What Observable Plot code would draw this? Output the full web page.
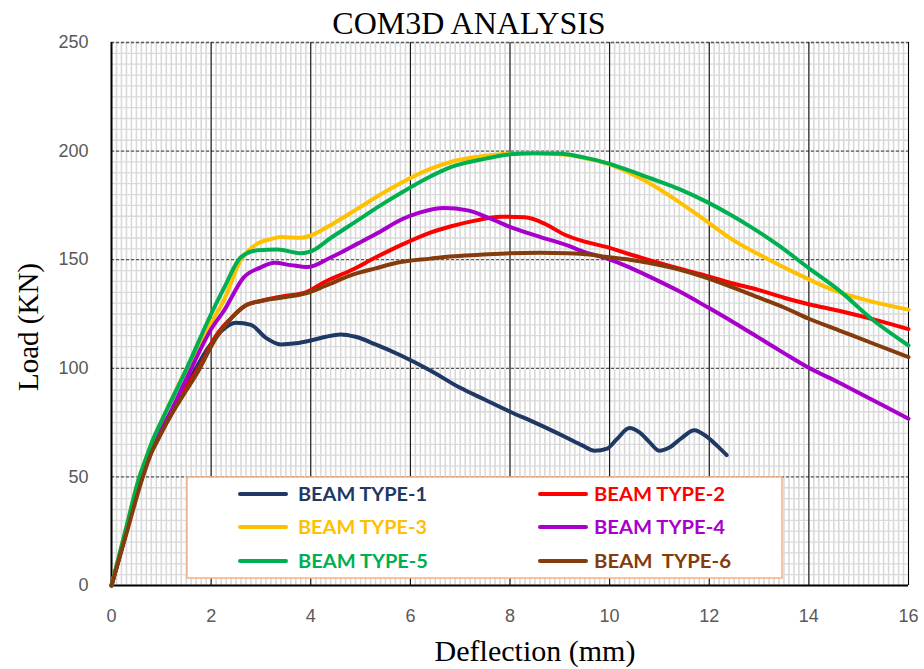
<!DOCTYPE html>
<html>
<head>
<meta charset="utf-8">
<script src="https://cdn.jsdelivr.net/npm/d3@7"></script>
<script src="https://cdn.jsdelivr.net/npm/@observablehq/plot@0.6"></script>
<style>
  html, body { margin: 0; padding: 0; background: #fff; }
  #chart svg { display: block; }
</style>
</head>
<body>
<div id="chart"></div>
<script>
// ---- Data ----
const seriesNames = ["BEAM TYPE-1", "BEAM TYPE-2", "BEAM TYPE-3", "BEAM TYPE-4", "BEAM TYPE-5", "BEAM  TYPE-6"];
const seriesColors = ["#203864", "#FF0000", "#FFC000", "#A800CC", "#00B050", "#843C0C"];

const x1 = [0,0.3,0.6,0.9,1.2,1.6,1.9,2.2,2.5,2.8,3.1,3.4,3.7,4.0,4.3,4.6,4.9,5.3,5.8,6.4,7.0,7.5,8.0,8.5,9.1,9.45,9.7,9.95,10.15,10.4,10.6,10.8,11.0,11.2,11.45,11.7,11.95,12.15,12.35];
const y1 = [0,25,50,67,80,96,108,117,121,120,114,111,111.5,112.8,114.5,115.6,114.5,111,106,99,91,85.5,80,75,68.5,64.5,62,63,67.5,72.5,70.5,66,62,63.5,68,71.5,68.5,64.5,60];

const x2 = [0,0.3,0.6,0.9,1.15,1.5,1.8,2.1,2.4,2.7,3.0,3.4,3.9,4.3,4.8,5.3,5.8,6.4,6.8,7.3,7.8,8.3,8.7,9.1,9.5,9.95,10.4,10.82,11.3,11.83,12.4,13.0,13.5,14.0,14.6,15.3,16];
const y2 = [0,25,50,67,77,91,102,115,123,129,131,133,135,140,145,151,156.6,162.5,165.3,168,169.8,169.5,166.5,161.5,158.3,155.8,152.5,149.7,146.5,143.3,139.5,136,132.5,129.5,126.5,122.5,118];

const x3 = [0,0.3,0.56,0.7,0.83,1.03,1.49,2.0,2.25,2.6,2.93,3.2,3.4,3.8,4.0,4.4,4.94,5.4,5.81,6.41,6.81,7.4,8.01,8.5,9.02,9.5,9.95,10.4,10.82,11.3,11.83,12.49,13.2,13.83,14.5,15.17,16];
const y3 = [0,27,50,59,67,77,99,121,131,150,157.4,159.5,160.4,160.1,161.2,166,173.5,180,185.3,191.9,195,197.5,198.8,199,198.5,196.8,194.2,190,185,178,169.6,158.9,150,142.8,135.9,131.3,127];

const x4 = [0,0.3,0.58,0.88,1.1,1.5,2.0,2.26,2.66,3.0,3.27,3.6,3.93,4.4,4.94,5.4,5.81,6.2,6.68,7.15,7.6,8.01,8.6,9.15,9.5,9.95,10.4,10.82,11.36,11.96,12.5,13.0,13.5,13.97,14.6,15.17,16];
const y4 = [0,25,50,67,76,95,118,126.6,142,146.5,148.6,147.5,146.6,151,157.4,163,168.4,171.8,173.8,172.7,169,165,160.5,156.6,153.5,150.5,146.5,142,135.9,128.2,121,114,107,100.6,93.5,86.7,76.8];

const x5 = [0,0.3,0.56,0.7,0.83,1.03,1.49,2.0,2.26,2.6,2.93,3.33,3.8,4.0,4.4,4.94,5.4,5.81,6.41,6.81,7.4,8.01,8.5,9.02,9.5,9.95,10.4,10.82,11.4,11.96,12.4,12.84,13.4,13.97,14.6,15.3,16];
const y5 = [0,27,50,59,67,77,99,125,137,151.2,154.3,154.7,153,153.8,160,168.1,175,180.7,188.4,192.6,196,198.5,199,198.8,197,194.5,191,187.5,182.5,176.5,171,165,156.5,146.6,136,122,110.5];

const x6 = [0,0.3,0.63,0.8,0.93,1.16,1.45,1.7,2.1,2.4,2.7,3.0,3.4,3.9,4.3,4.8,5.3,5.8,6.4,6.8,7.4,8.0,8.6,9.15,9.6,9.95,10.4,10.8,11.3,11.9,12.5,13.0,13.5,14.0,14.6,15.3,16];
const y6 = [0,24,50,61,67,77,88,97,114,123,129,131,132.5,134.5,138,142.8,146,148.9,150.5,151.5,152.3,153,153.2,153,152.4,151.2,150,148.5,146,142,137,132.5,128,122.8,117.5,111.3,105.2];

const xTicks = [0,2,4,6,8,10,12,14,16];
const yTicks = [0,50,100,150,200,250];

const title = "COM3D ANALYSIS";
const xLabel = "Deflection (mm)";
const yLabel = "Load (KN)";

// ---- Build table ----
const xs = [x1,x2,x3,x4,x5,x6];
const ys = [y1,y2,y3,y4,y5,y6];
const rows = [];
seriesNames.forEach((name, i) => {
  xs[i].forEach((xv, j) => rows.push({series: name, x: xv, y: ys[i][j]}));
});

const W = 924, H = 669;
const mL = 111, mR = 16, mT = 42, mB = 84;

const minorX = d3.range(0, 160.5, 1).map(d => d / 10);
const minorY = d3.range(0, 251, 5);
const majorXInner = xTicks.filter(d => d > 0);

const plot = Plot.plot({
  width: W, height: H,
  marginLeft: mL, marginRight: mR, marginTop: mT, marginBottom: mB,
  style: {background: "#fff", fontFamily: "'Liberation Sans', Arial, sans-serif"},
  x: {domain: [0, 16]},
  y: {domain: [0, 250]},
  color: {domain: seriesNames, range: seriesColors},
  marks: [
    Plot.ruleY(minorY, {stroke: "#d9d9d9", strokeWidth: 1.3}),
    Plot.ruleX(minorX, {stroke: "#d9d9d9", strokeWidth: 1.6}),
    Plot.ruleY(yTicks.filter(d => d > 0), {stroke: "#595959", strokeWidth: 1.3, strokeDasharray: "3,2"}),
    Plot.ruleX(majorXInner, {stroke: "#000", strokeWidth: 1}),
    Plot.ruleX([0], {stroke: "#000", strokeWidth: 2}),
    Plot.ruleY([0], {stroke: "#000", strokeWidth: 2}),
    Plot.axisX({ticks: xTicks, tickSize: 0, tickPadding: 24, fontSize: 18, color: "#595959", label: null}),
    Plot.axisY({ticks: yTicks, tickSize: 0, tickPadding: 23, fontSize: 18, color: "#595959", label: null}),
    Plot.line(rows, {x: "x", y: "y", z: "series", stroke: "series", strokeWidth: 4, curve: "monotone-x"})
  ]
});

document.getElementById("chart").appendChild(plot);

// ---- Titles and legend ----
const svg = d3.select(plot);
const serif = "'Liberation Serif', 'Times New Roman', serif";

svg.append("text")
  .attr("x", 469).attr("y", 34)
  .attr("text-anchor", "middle")
  .attr("font-family", serif).attr("font-size", 32).attr("fill", "#000")
  .text(title);

svg.append("text")
  .attr("x", 535).attr("y", 661)
  .attr("text-anchor", "middle")
  .attr("font-family", serif).attr("font-size", 30).attr("fill", "#000")
  .text(xLabel);

svg.append("text")
  .attr("transform", "translate(38,327) rotate(-90)")
  .attr("text-anchor", "middle")
  .attr("font-family", serif).attr("font-size", 29).attr("fill", "#000")
  .text(yLabel);

const lg = svg.append("g");
lg.append("rect")
  .attr("x", 187).attr("y", 477).attr("width", 595).attr("height", 101)
  .attr("fill", "#fff").attr("stroke", "#F4B183").attr("stroke-width", 1.5);

const legendPos = [
  {col: 0, row: 0}, {col: 1, row: 0},
  {col: 0, row: 1}, {col: 1, row: 1},
  {col: 0, row: 2}, {col: 1, row: 2}
];
const colLineX = [240, 540];
const colTextX = [298, 594];
const rowY = [494, 527, 561];
const textLens = [129, 131, 129, 131, 130, 137];

seriesNames.forEach((name, i) => {
  const p = legendPos[i];
  const yy = rowY[p.row];
  lg.append("line")
    .attr("x1", colLineX[p.col]).attr("x2", colLineX[p.col] + 46)
    .attr("y1", yy).attr("y2", yy)
    .attr("stroke", seriesColors[i]).attr("stroke-width", 4).attr("stroke-linecap", "round");
  lg.append("text")
    .attr("x", colTextX[p.col]).attr("y", yy)
    .attr("dy", "0.36em")
    .attr("text-anchor", "start")
    .style("font-family", "Lato, 'Open Sans', sans-serif")
    .style("font-weight", "700")
    .style("font-size", "19px")
    .style("white-space", "pre")
    .attr("fill", seriesColors[i])
    .attr("textLength", textLens[i]).attr("lengthAdjust", "spacingAndGlyphs")
    .text(name);
});
</script>
</body>
</html>
